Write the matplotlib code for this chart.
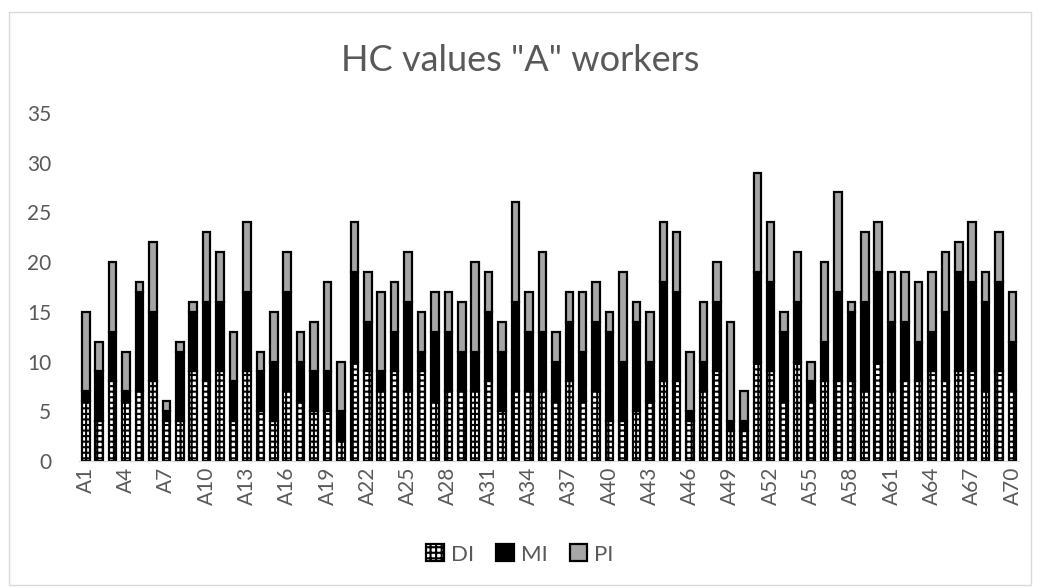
import matplotlib
matplotlib.use("Agg")
import matplotlib.pyplot as plt
import numpy as np
from matplotlib.patches import Rectangle

plt.rcParams['hatch.linewidth'] = 1.5
plt.rcParams['font.family'] = ['Lato', 'DejaVu Sans']

categories = [f"A{i}" for i in range(1, 71)]
DI = [6, 4, 8, 6, 7, 8, 4, 4, 9, 8,
      9, 4, 9, 5, 4, 7, 6, 5, 5, 2,
      10, 9, 7, 9, 7, 9, 6, 7, 7, 7,
      8, 5, 7, 7, 7, 6, 8, 6, 7, 4,
      4, 5, 6, 8, 8, 4, 7, 9, 3, 3,
      10, 9, 6, 10, 6, 8, 8, 8, 7, 10,
      7, 8, 8, 9, 8, 9, 9, 7, 9, 7]
MI = [1, 5, 5, 1, 10, 7, 1, 7, 6, 8,
      7, 4, 8, 4, 6, 10, 4, 4, 4, 3,
      9, 5, 2, 4, 9, 2, 7, 6, 4, 4,
      7, 6, 9, 6, 6, 4, 6, 5, 7, 9,
      6, 9, 4, 10, 9, 1, 3, 7, 1, 1,
      9, 9, 7, 6, 2, 4, 9, 7, 9, 9,
      7, 6, 4, 4, 7, 10, 9, 9, 9, 5]
PI = [8, 3, 7, 4, 1, 7, 1, 1, 1, 7,
      5, 5, 7, 2, 5, 4, 3, 5, 9, 5,
      5, 5, 8, 5, 5, 4, 4, 4, 5, 9,
      4, 3, 10, 4, 8, 3, 3, 6, 4, 2,
      9, 2, 5, 6, 6, 6, 6, 4, 10, 3,
      10, 6, 2, 5, 2, 8, 10, 1, 7, 5,
      5, 5, 6, 6, 6, 3, 6, 3, 5, 5]
title = 'HC values "A" workers'
series_names = ["DI", "MI", "PI"]

fig = plt.figure(figsize=(10.4, 5.88), dpi=100)
ax = fig.add_axes([0.076, 0.216, 0.904, 0.592])

x = np.arange(len(categories))
di = np.array(DI); mi = np.array(MI); pi = np.array(PI)
w = 0.56
ax.bar(x, di, width=w, color="white", edgecolor="black", hatch="+++", linewidth=1.6, label=series_names[0])
ax.bar(x, mi, width=w, bottom=di, color="black", edgecolor="black", linewidth=1.6, label=series_names[1])
ax.bar(x, pi, width=w, bottom=di + mi, color="#a6a6a6", edgecolor="black", linewidth=1.6, label=series_names[2])

ax.set_xlim(-0.5, len(categories) - 0.5)
ax.set_ylim(0, 35)
ax.set_yticks(range(0, 36, 5))
ax.set_xticks(x[::3])
ax.set_xticklabels(categories[::3], rotation=90)
ax.tick_params(axis='both', length=0, colors="#595959", labelsize=15)
ax.tick_params(axis='y', pad=20)
ax.tick_params(axis='x', pad=4)
for s in ["top", "right", "left"]:
    ax.spines[s].set_visible(False)
ax.spines["bottom"].set_color("#d9d9d9")

fig.suptitle(title, y=0.925, fontsize=26, color="#595959")

leg = fig.legend(loc="center", bbox_to_anchor=(0.5, 0.057), ncol=3, frameon=False,
                 fontsize=16, handlelength=0.8, handleheight=0.8, columnspacing=1.0,
                 handletextpad=0.3)
for t in leg.get_texts():
    t.set_color("#595959")

fig.patches.append(Rectangle((0.009, 0.005), 0.982, 0.975, transform=fig.transFigure,
                             fill=False, edgecolor="#d9d9d9", linewidth=1))

fig.savefig("out.png", dpi=100, facecolor="white")
